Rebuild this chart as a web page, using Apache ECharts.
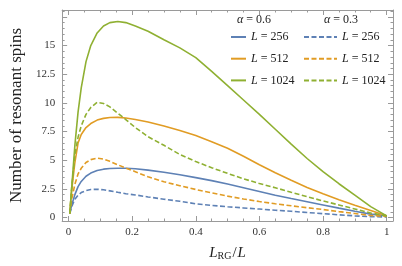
<!DOCTYPE html>
<html><head><meta charset="utf-8">
<script src="https://cdn.jsdelivr.net/npm/echarts@6/dist/echarts.min.js"></script>
<style>html,body{margin:0;padding:0;background:#fff}#c{width:402px;height:266px}</style>
</head><body><div id="c"></div>
<script>
const X = [0.004, 0.01, 0.02, 0.03, 0.04, 0.055, 0.07, 0.09, 0.11, 0.13, 0.155, 0.18, 0.21, 0.25, 0.3, 0.35, 0.4, 0.45, 0.5, 0.55, 0.6, 0.65, 0.7, 0.75, 0.8, 0.85, 0.9, 0.95, 1.0];
const b06 = [0.35, 1.1, 2.0, 2.7, 3.15, 3.6, 3.88, 4.1, 4.22, 4.28, 4.3, 4.3, 4.26, 4.14, 3.95, 3.73, 3.48, 3.22, 2.92, 2.6, 2.28, 1.95, 1.66, 1.38, 1.1, 0.82, 0.55, 0.3, 0.15];
const o06 = [0.35, 2.4, 4.8, 6.5, 7.25, 7.85, 8.2, 8.5, 8.65, 8.72, 8.74, 8.68, 8.55, 8.33, 7.98, 7.6, 7.15, 6.62, 6.05, 5.35, 4.6, 3.9, 3.25, 2.62, 2.07, 1.55, 1.08, 0.62, 0.15];
const g06 = [0.35, 2.6, 6.3, 9.2, 11.3, 13.6, 15.0, 16.1, 16.7, 17.0, 17.1, 17.0, 16.7, 16.25, 15.5, 14.8, 13.95, 12.75, 11.5, 10.25, 9.0, 7.7, 6.4, 5.15, 4.0, 2.95, 1.95, 0.95, 0.15];
const b03 = [0.35, 0.96, 1.6, 1.95, 2.18, 2.35, 2.45, 2.47, 2.42, 2.33, 2.2, 2.08, 1.97, 1.8, 1.6, 1.42, 1.2, 1.06, 0.94, 0.84, 0.74, 0.64, 0.55, 0.44, 0.34, 0.24, 0.15, 0.08, 0.05];
const o03 = [0.35, 1.6, 2.9, 3.8, 4.3, 4.8, 5.05, 5.18, 5.1, 4.9, 4.6, 4.32, 4.0, 3.55, 3.12, 2.78, 2.45, 2.15, 1.87, 1.62, 1.4, 1.2, 1.03, 0.86, 0.7, 0.52, 0.35, 0.18, 0.1];
const g03 = [0.35, 2.6, 5.5, 7.0, 8.0, 9.0, 9.6, 10.05, 9.95, 9.65, 9.1, 8.55, 7.85, 7.05, 6.3, 5.5, 4.88, 4.35, 3.85, 3.38, 2.97, 2.6, 2.2, 1.82, 1.45, 1.1, 0.75, 0.4, 0.15];
const sizes = ['256', '512', '1024'];
const alphas = ['0.6', '0.3'];
const xTicks = ['0', '0.2', '0.4', '0.6', '0.8', '1'];
const yTicks = ['0', '2.5', '5', '7.5', '10', '12.5', '15'];

const SERIF = '"Liberation Serif","DejaVu Serif",serif';
const FRAME = '#9a9a9a';
const colors = ['#5E81B5', '#E19C24', '#8FB032'];
const solid = [b06, o06, g06];
const dashed = [b03, o03, g03];

const xMin = -0.02, xMax = 1.02, yMin = -0.3, yMax = 18.1;

function xLab(v) {
  const s = String(+v.toFixed(4));
  return xTicks.includes(s) ? s : '';
}
function yLab(v) {
  const s = String(+v.toFixed(4));
  return yTicks.includes(s) ? s : '';
}
function mkX(pos, step, len, labels, line) {
  return {
    type: 'value', position: pos, min: xMin, max: xMax,
    minInterval: step, maxInterval: step, splitNumber: 5,
    axisLine: { show: line, onZero: false, lineStyle: { color: FRAME, width: 1 } },
    axisTick: { show: true, inside: true, length: len, lineStyle: { color: FRAME, width: 1 } },
    axisLabel: { show: labels, formatter: xLab, margin: 6, color: '#333', fontFamily: SERIF, fontSize: 11 },
    splitLine: { show: false }
  };
}
function mkY(pos, step, len, labels, line) {
  return {
    type: 'value', position: pos, min: yMin, max: yMax,
    minInterval: step, maxInterval: step, splitNumber: 5,
    axisLine: { show: line, onZero: false, lineStyle: { color: FRAME, width: 1 } },
    axisTick: { show: true, inside: true, length: len, lineStyle: { color: FRAME, width: 1 } },
    axisLabel: { show: labels, formatter: yLab, margin: 7, color: '#333', fontFamily: SERIF, fontSize: 11 },
    splitLine: { show: false }
  };
}
const xAxes = [mkX('bottom', 0.2, 5, true, true), mkX('bottom', 0.05, 2.5, false, false),
               mkX('top', 0.2, 5, false, true), mkX('top', 0.05, 2.5, false, false)];
xAxes[0].name = '{i|L}{s|RG}{n|/}{i|L}';
xAxes[0].nameLocation = 'middle';
xAxes[0].nameGap = 25;
xAxes[0].nameTextStyle = {
  rich: {
    i: { fontFamily: SERIF, fontStyle: 'italic', fontSize: 15, lineHeight: 15, verticalAlign: 'top', color: '#222' },
    n: { fontFamily: SERIF, fontSize: 15, lineHeight: 15, verticalAlign: 'top', color: '#222', padding: [0, 1, 0, 1] },
    s: { fontFamily: SERIF, fontSize: 10, lineHeight: 10, padding: [7, 0, 0, 0], verticalAlign: 'bottom', color: '#222' }
  }
};
const yAxes = [mkY('left', 2.5, 5, true, true), mkY('left', 0.5, 2.5, false, false),
               mkY('right', 2.5, 5, false, true), mkY('right', 0.5, 2.5, false, false)];
yAxes[0].name = 'Number of resonant spins';
yAxes[0].nameLocation = 'middle';
yAxes[0].nameGap = 37;
yAxes[0].nameRotate = 90;
yAxes[0].nameTextStyle = { fontFamily: SERIF, fontSize: 17, color: '#222' };

const series = [];
sizes.forEach((L, k) => {
  series.push({
    name: 's' + L, type: 'line', xAxisIndex: 0, yAxisIndex: 0,
    data: X.map((x, i) => [x, solid[k][i]]),
    showSymbol: false, symbol: 'none', smooth: false,
    lineStyle: { color: colors[k], width: 1.6 }, itemStyle: { color: colors[k] }, z: 3 + k
  });
});
sizes.forEach((L, k) => {
  series.push({
    name: 'd' + L, type: 'line', xAxisIndex: 0, yAxisIndex: 0,
    data: X.map((x, i) => [x, dashed[k][i]]),
    showSymbol: false, symbol: 'none', smooth: false,
    lineStyle: { color: colors[k], width: 1.6, type: [5, 2.5] }, itemStyle: { color: colors[k] }, z: 3 + k
  });
});

const legRich = {
  i: { fontFamily: SERIF, fontStyle: 'italic', fontSize: 12, color: '#222' },
  n: { fontFamily: SERIF, fontSize: 12, color: '#222' }
};
function legFmt(name) { return '{i|L}{n| = ' + name.slice(1) + '}'; }
const legCommon = {
  orient: 'vertical', top: 31, padding: 0, itemHeight: 12, itemGap: 9.7,
  formatter: legFmt, textStyle: { rich: legRich, fontFamily: SERIF, fontSize: 12, color: '#222', lineHeight: 12 },
  itemStyle: { opacity: 0, borderWidth: 0 },
  selectedMode: false
};

const chart = echarts.init(document.getElementById('c'), null, { renderer: 'canvas' });
chart.setOption({
  animation: false,
  grid: { left: 52, right: 9, top: 10, bottom: 45, containLabel: false },
  xAxis: xAxes,
  yAxis: yAxes,
  legend: [
    Object.assign({ left: 230, itemWidth: 15, data: sizes.map(s => 's' + s) }, legCommon),
    Object.assign({ left: 303, itemWidth: 33, data: sizes.map(s => 'd' + s) }, legCommon)
  ],
  graphic: alphas.map((a, j) => ({
    type: 'text', x: j === 0 ? 254 : 341, y: 20, silent: true,
    style: {
      text: '{a|α}{n| = ' + a + '}', align: 'center', verticalAlign: 'middle',
      rich: { a: { fontFamily: SERIF, fontStyle: 'italic', fontSize: 12, fill: '#222' }, n: { fontFamily: SERIF, fontSize: 12, fill: '#222' } }
    }
  })),
  series: series
});
</script></body></html>
